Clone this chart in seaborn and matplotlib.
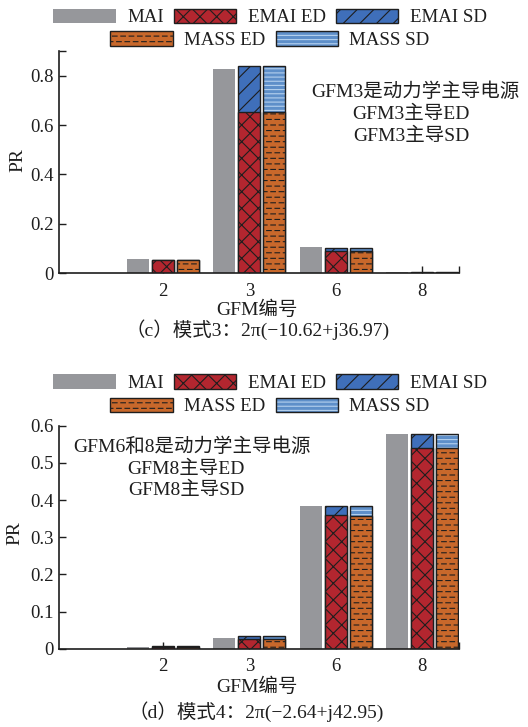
import warnings
import numpy as np
import pandas as pd
import matplotlib
matplotlib.use("Agg")
import matplotlib.pyplot as plt
from matplotlib import hatch as mhatch
from matplotlib.path import Path
from matplotlib.patches import Patch, Rectangle
from matplotlib.legend_handler import HandlerTuple
import seaborn as sns

warnings.filterwarnings("ignore", message="hatch must consist")

# ---------------------------------------------------------------- data
gfm = ["2", "3", "6", "8"]
methods = ["MAI", "EMAI", "MASS"]

# mode 3
c_mai = [0.058, 0.827, 0.106, 0.005]
c_emai_ed = [0.052, 0.652, 0.092, 0.002]
c_emai_sd = [0.001, 0.188, 0.009, 0.002]
c_mass_ed = [0.052, 0.652, 0.089, 0.002]
c_mass_sd = [0.001, 0.188, 0.012, 0.002]

# mode 4
d_mai = [0.0055, 0.030, 0.384, 0.577]
d_emai_ed = [0.004, 0.026, 0.359, 0.539]
d_emai_sd = [0.002, 0.007, 0.026, 0.038]
d_mass_ed = [0.004, 0.026, 0.357, 0.541]
d_mass_sd = [0.002, 0.007, 0.028, 0.036]

legend_labels = ["MAI", "EMAI ED", "EMAI SD", "MASS ED", "MASS SD"]
c_notes = ["GFM3是动力学主导电源", "GFM3主导ED", "GFM3主导SD"]
d_notes = ["GFM6和8是动力学主导电源", "GFM8主导ED", "GFM8主导SD"]
c_caption = "（c）模式3：2π(−10.62+j36.97)"
d_caption = "（d）模式4：2π(−2.64+j42.95)"


# ------------------------------------------------ staggered dash hatch '_'
class DashedRows(mhatch.HatchPatternBase):
    n_dash = 12

    def __init__(self, hatch, density):
        self.num_lines = int(hatch.count("_") * density)
        self.num_vertices = self.num_lines * self.n_dash * 2

    def set_vertices_and_codes(self, vertices, codes):
        period = 1.0 / self.n_dash
        dash = period * 0.55
        pts = np.zeros((self.num_lines, self.n_dash, 2, 2))
        for i in range(self.num_lines):
            y = (i + 0.5) / self.num_lines
            starts = np.arange(self.n_dash) * period + (period / 2) * (i % 2)
            pts[i, :, 0, 0] = starts
            pts[i, :, 1, 0] = starts + dash
            pts[i, :, :, 1] = y
        vertices[:] = pts.reshape(-1, 2)
        codes[0::2] = Path.MOVETO
        codes[1::2] = Path.LINETO


mhatch._hatch_types.append(DashedRows)

# ---------------------------------------------------------------- style
sns.set_theme(style="ticks")
plt.rcParams["font.family"] = ["Liberation Serif", "Noto Sans CJK SC"]
plt.rcParams["font.weight"] = 300
plt.rcParams["hatch.linewidth"] = 0.8
plt.rcParams["axes.unicode_minus"] = False

INK = "#1e1e1e"
GRAY = "#96979b"
RED = "#b3262f"
BLUE = "#3f6fba"
ORANGE = "#c8682b"
SBLUE = "#5e8fc9"
SLIGHT = "#b4d0ee"
H_RED, H_BLUE, H_ORANGE, H_SBLUE = "xx", "//", "___", "----"
FS = 14
TFS = 13.5

W, H = 528, 727
fig = plt.figure(figsize=(W / 100, H / 100), dpi=100)


def fx(px):
    return px / W


def fy(py):
    return 1 - py / H


def style_ed_sd(total_cont, ed_cont, kind):
    for p in total_cont.patches:
        if kind == "EMAI":
            p.set_facecolor(BLUE)
            p.set_hatch(H_BLUE)
            p.set_edgecolor(INK)
            p.set_linewidth(1.0)
        else:
            p.set_facecolor(SBLUE)
            p.set_hatch(H_SBLUE)
            p.set_edgecolor(SLIGHT)
            p.set_linewidth(0)
            p.axes.add_patch(Rectangle(p.get_xy(), p.get_width(), p.get_height(),
                                       fill=False, edgecolor=INK, linewidth=1.0,
                                       zorder=p.get_zorder() + 0.1))
    for p in ed_cont.patches:
        p.set_facecolor(RED if kind == "EMAI" else ORANGE)
        p.set_hatch(H_RED if kind == "EMAI" else H_ORANGE)
        p.set_edgecolor(INK)
        p.set_linewidth(1.0)
        p.set_zorder(p.get_zorder() + 0.2)


def panel(rect, mai, emai_ed, emai_sd, mass_ed, mass_sd, ylim, yticks, ylabels):
    ax = fig.add_axes(rect)
    total = pd.DataFrame({
        "GFM": gfm * 3,
        "method": np.repeat(methods, len(gfm)),
        "PR": list(mai)
        + list(np.add(emai_ed, emai_sd))
        + list(np.add(mass_ed, mass_sd)),
    })
    ed = pd.DataFrame({
        "GFM": gfm * 3,
        "method": np.repeat(methods, len(gfm)),
        "PR": [0.0] * len(gfm) + list(emai_ed) + list(mass_ed),
    })
    kw = dict(x="GFM", y="PR", hue="method", order=gfm, hue_order=methods,
              width=0.87, gap=0.12, dodge=True, legend=False, errorbar=None,
              palette=[GRAY, BLUE, SBLUE], ax=ax)
    sns.barplot(data=total, **kw)
    sns.barplot(data=ed, **kw)
    c = ax.containers
    for p in c[0].patches:
        p.set_facecolor(GRAY)
        p.set_edgecolor(GRAY)
        p.set_linewidth(0)
    for p in c[3].patches:
        p.set_visible(False)
    style_ed_sd(c[1], c[4], "EMAI")
    style_ed_sd(c[2], c[5], "MASS")

    xmax = 3.43
    ax.set_xlim(-1.205, xmax)
    ax.set_ylim(*ylim)
    ax.set_xticks(list(range(len(gfm))) + [xmax], gfm + [""])
    ax.set_yticks(yticks, ylabels)
    sns.despine(ax=ax)
    for s in ("left", "bottom"):
        ax.spines[s].set_color(INK)
        ax.spines[s].set_linewidth(1.2)
    ax.tick_params(axis="both", direction="in", length=5, width=1.0,
                   color=INK, labelsize=TFS, labelcolor=INK)
    ax.tick_params(axis="x", pad=7)
    ax.tick_params(axis="y", pad=4)
    ax.set_ylabel("PR", fontsize=FS, color=INK)
    ax.set_xlabel("GFM编号", fontsize=FS, color=INK)
    ax.grid(False)
    return ax


ax_c = panel([fx(59), fy(273.3), fx(400), 222.3 / H],
             c_mai, c_emai_ed, c_emai_sd, c_mass_ed, c_mass_sd,
             (0, 0.9), [0, 0.2, 0.4, 0.6, 0.8, 0.9],
             ["0", "0.2", "0.4", "0.6", "0.8", ""])
ax_d = panel([fx(59), fy(648.7), fx(400), 223 / H],
             d_mai, d_emai_ed, d_emai_sd, d_mass_ed, d_mass_sd,
             (0, 0.6), [0, 0.1, 0.2, 0.3, 0.4, 0.5, 0.6],
             ["0", "0.1", "0.2", "0.3", "0.4", "0.5", "0.6"])

for ax, xpr, ypr, yxl in ((ax_c, 18, 160, 310), (ax_d, 15, 533, 686.7)):
    ax.yaxis.set_label_coords(fx(xpr), fy(ypr), transform=fig.transFigure)
    ax.yaxis.label.set_va("center")
    ax.xaxis.set_label_coords(fx(257), fy(yxl), transform=fig.transFigure)
    ax.xaxis.label.set_va("center")

# legend handles
h_mai = Patch(facecolor=GRAY, edgecolor=GRAY, linewidth=0)
h_eed = Patch(facecolor=RED, hatch=H_RED, edgecolor=INK, linewidth=1.0)
h_esd = Patch(facecolor=BLUE, hatch=H_BLUE, edgecolor=INK, linewidth=1.0)
h_med = Patch(facecolor=ORANGE, hatch=H_ORANGE, edgecolor=INK, linewidth=1.0)
h_msd = (Patch(facecolor=SBLUE, hatch=H_SBLUE, edgecolor=SLIGHT, linewidth=0),
         Patch(fill=False, edgecolor=INK, linewidth=1.0))

leg_kw = dict(loc="center", frameon=False, fontsize=13.6, handlelength=3.3,
              handleheight=0.8, handletextpad=0.6, columnspacing=0.55,
              borderpad=0, borderaxespad=0, labelcolor=INK,
              handler_map={tuple: HandlerTuple(ndivide=1)})
for y1, y2 in ((17.5, 40), (383, 406.5)):
    fig.legend([h_mai, h_eed, h_esd], legend_labels[:3], ncol=3,
               bbox_to_anchor=(fx(270), fy(y1)), **leg_kw)
    fig.legend([h_med, h_msd], legend_labels[3:], ncol=2,
               bbox_to_anchor=(fx(270), fy(y2)), **leg_kw)

# annotations
for txt, x, y in zip(c_notes, (415, 411, 411), (91.7, 114, 136)):
    fig.text(fx(x), fy(y), txt, ha="center", va="center", fontsize=FS, color=INK)
for txt, x, y in zip(d_notes, (192, 186, 186), (446.7, 469, 490.7)):
    fig.text(fx(x), fy(y), txt, ha="center", va="center", fontsize=FS, color=INK)

fig.text(fx(258), fy(330), c_caption, ha="center", va="center", fontsize=FS, color=INK)
fig.text(fx(256), fy(711.7), d_caption, ha="center", va="center", fontsize=FS, color=INK)

fig.savefig("out.png", dpi=100)
